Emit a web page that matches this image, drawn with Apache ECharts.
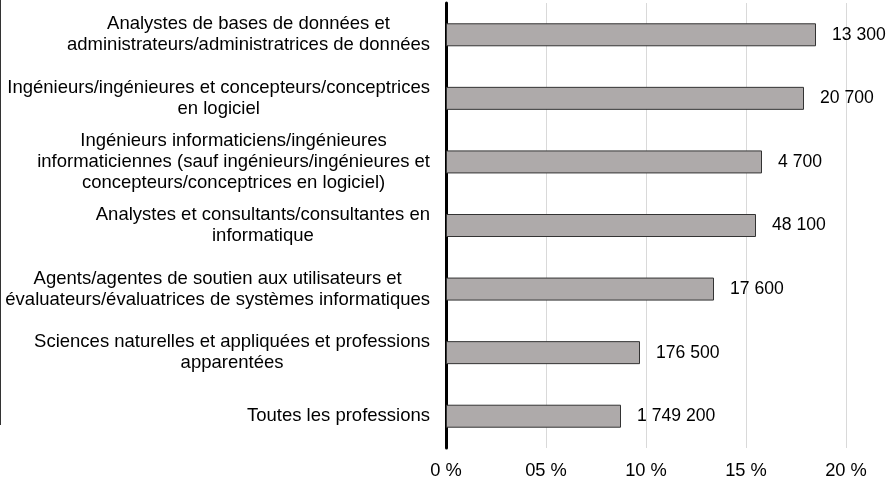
<!DOCTYPE html>
<html>
<head>
<meta charset="utf-8">
<script src="https://cdn.jsdelivr.net/npm/echarts@6/dist/echarts.min.js"></script>
<style>
  html, body { margin: 0; padding: 0; background: #fff; }
  #chart { width: 890px; height: 481px; }
</style>
</head>
<body>
<div id="chart"></div>
<script>
// Occupation groups, top to bottom (lines split as they wrap)
const categories = [
  'Analystes de bases de données et\nadministrateurs/administratrices de données',
  'Ingénieurs/ingénieures et concepteurs/conceptrices\nen logiciel',
  'Ingénieurs informaticiens/ingénieures\ninformaticiennes (sauf ingénieurs/ingénieures et\nconcepteurs/conceptrices en logiciel)',
  'Analystes et consultants/consultantes en\ninformatique',
  'Agents/agentes de soutien aux utilisateurs et\névaluateurs/évaluatrices de systèmes informatiques',
  'Sciences naturelles et appliquées et professions\napparentées',
  'Toutes les professions'
];

// Share (%) plotted as bar length
const shares = [18.5, 17.9, 15.8, 15.5, 13.4, 9.7, 8.75];

// Workers in each group, printed beside the bars
const counts = [13300, 20700, 4700, 48100, 17600, 176500, 1749200];

// Value-axis tick labels
const tickLabels = ['0 %', '05 %', '10 %', '15 %', '20 %'];

const fontFamily = "'Liberation Sans', Arial, sans-serif";
const categorySize = 18.5;
const tickSize = 18.3;
const valueSize = 17.6;

function groupThousands(n) {
  return String(n).replace(/\B(?=(\d{3})+(?!\d))/g, ' ');
}

const chart = echarts.init(document.getElementById('chart'), null, { renderer: 'canvas' });

chart.setOption({
  animation: false,
  backgroundColor: '#ffffff',
  grid: { left: 446, right: 44, top: 3, bottom: 33, outerBoundsMode: 'none', containLabel: false },
  xAxis: {
    type: 'value',
    min: 0,
    max: 20,
    interval: 5,
    axisLine: { show: false },
    axisTick: { show: false },
    splitLine: { show: true, lineStyle: { color: '#d9d9d9', width: 1 } },
    axisLabel: {
      margin: 14,
      color: '#000',
      fontSize: tickSize,
      fontFamily: fontFamily,
      formatter: function (v) { return tickLabels[Math.round(v / 5)]; }
    }
  },
  yAxis: {
    type: 'category',
    inverse: true,
    data: categories,
    axisLine: { show: true, lineStyle: { color: '#000', width: 3 } },
    axisTick: { show: false },
    axisLabel: {
      margin: 16,
      color: '#000',
      fontSize: categorySize,
      fontFamily: fontFamily,
      lineHeight: 21,
      align: 'right',
      formatter: function (v) {
        return v.split('\n').map(function (l) { return '{c|' + l + '}'; }).join('\n');
      },
      rich: {
        c: { align: 'center', fontSize: categorySize, lineHeight: 21, fontFamily: fontFamily, color: '#000' }
      }
    }
  },
  series: [{
    type: 'bar',
    data: shares,
    barWidth: 23,
    itemStyle: { color: '#aeaaaa', borderColor: '#333333', borderWidth: 1 },
    label: {
      show: true,
      position: 'right',
      distance: 16,
      color: '#000',
      fontSize: valueSize,
      fontFamily: fontFamily,
      formatter: function (p) { return groupThousands(counts[p.dataIndex]); }
    }
  }],
  graphic: [{
    type: 'line',
    shape: { x1: 0.5, y1: 0, x2: 0.5, y2: 425 },
    style: { stroke: '#333333', lineWidth: 1 }
  }]
});
</script>
</body>
</html>
